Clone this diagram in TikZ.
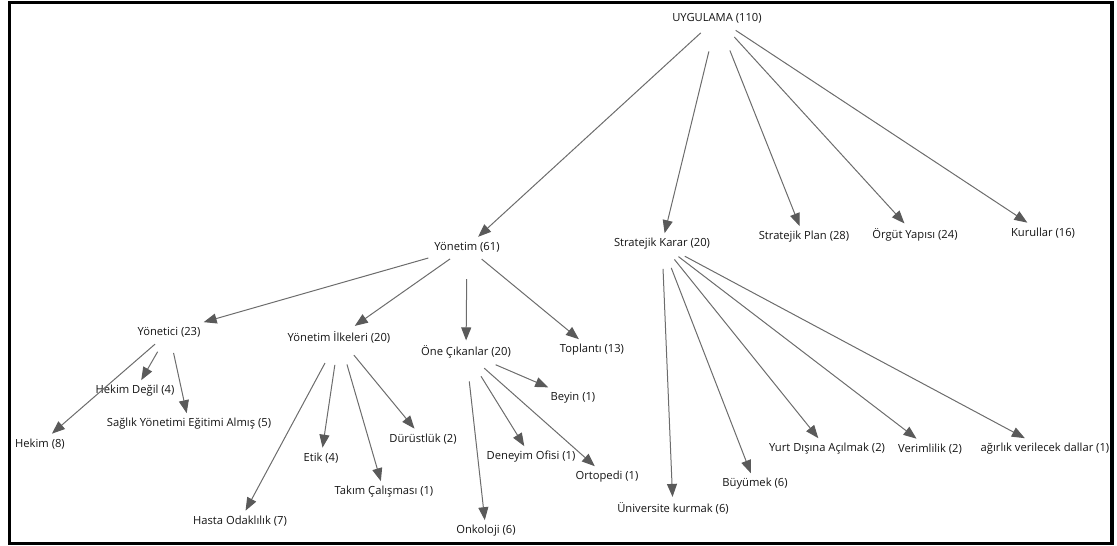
\documentclass[tikz,border=0pt]{standalone}
\usepackage{fontspec}
\setmainfont{Open Sans}
\usetikzlibrary{arrows.meta}
\definecolor{edgegray}{HTML}{6C6C6C}
\definecolor{tipgray}{HTML}{5A5A5A}
\begin{document}
\begin{tikzpicture}[x=1pt,y=-1pt,
  lbl/.style={inner xsep=3pt, inner ysep=5pt, font=\fontsize{11.2}{13}\selectfont, text=black!92},
  edge/.style={draw=edgegray, line width=1pt,
    -{Triangle[length=13pt,width=10pt,color=tipgray]}, shorten <=3pt},
  gap/.style={shorten <=#1}]
\useasboundingbox (0,0) rectangle (1117,546);
\draw[line width=3.5pt] (9.5,2.5) rectangle (1112,543.5);

% root and first level
\node[lbl] (u)   at (717,18)  {UYGULAMA (110)};
\node[lbl] (yon) at (467,247) {Yönetim (61)};
\node[lbl] (sk)  at (662,244) {Stratejik Karar (20)};
\node[lbl] (sp)  at (804,237) {Stratejik Plan (28)};
\node[lbl] (oy)  at (915,235) {Örgüt Yapısı (24)};
\node[lbl] (kur) at (1043,233) {Kurullar (16)};

% under Yönetim
\node[lbl] (yci) at (169,332) {Yönetici (23)};
\node[lbl] (yil) at (339,337) {Yönetim İlkeleri (20)};
\node[lbl] (oc)  at (466,352) {Öne Çıkanlar (20)};
\node[lbl] (top) at (592,350) {Toplantı (13)};

% under Yönetici
\node[lbl] (hd)  at (135,391) {Hekim Değil (4)};
\node[lbl] (sye) at (189,424) {Sağlık Yönetimi Eğitimi Almış (5)};
\node[lbl] (hek) at (40,444)  {Hekim (8)};

% under Yönetim İlkeleri
\node[lbl] (etk) at (321,458) {Etik (4)};
\node[lbl] (dur) at (423,439) {Dürüstlük (2)};
\node[lbl] (tak) at (384,492) {Takım Çalışması (1)};
\node[lbl] (has) at (240,521) {Hasta Odaklılık (7)};

% under Öne Çıkanlar
\node[lbl] (bey) at (573,398) {Beyin (1)};
\node[lbl] (den) at (531,457) {Deneyim Ofisi (1)};
\node[lbl] (ort) at (607,477) {Ortopedi (1)};
\node[lbl] (onk) at (486,531) {Onkoloji (6)};

% under Stratejik Karar
\node[lbl] (uni) at (673,508) {Üniversite kurmak (6)};
\node[lbl] (buy) at (755,484) {Büyümek (6)};
\node[lbl] (yda) at (827,449) {Yurt Dışına Açılmak (2)};
\node[lbl] (ver) at (930,449) {Verimlilik (2)};
\node[lbl] (agr) at (1045,449) {ağırlık verilecek dallar (1)};

% connectors
\draw[edge, gap=7pt]  (u) -- (yon);
\draw[edge, gap=24pt] (u) -- (sk);
\draw[edge, gap=24pt] (u) -- (sp);
\draw[edge, gap=12pt] (u) -- (oy);
\draw[edge, gap=4pt]  (u) -- (kur);

\draw[edge] (yon) -- (yci);
\draw[edge] (yon) -- (yil);
\draw[edge, gap=22pt] (yon) -- (oc);
\draw[edge] (yon) -- (top);

\draw[edge] (yci) -- (hek);
\draw[edge, gap=11pt] (yci) -- (hd);
\draw[edge, gap=11pt] (yci) -- (sye);

\draw[edge, gap=17pt] (yil) -- (has);
\draw[edge, gap=17pt] (yil) -- (etk);
\draw[edge, gap=17pt] (yil) -- (tak);
\draw[edge, gap=9pt]  (yil) -- (dur);

\draw[edge] (oc) -- (bey);
\draw[edge, gap=15pt] (oc) -- (den);
\draw[edge, gap=7pt]  (oc) -- (ort);
\draw[edge, gap=18pt] (oc) -- (onk);

\draw[edge, gap=14pt] (sk) -- (uni);
\draw[edge, gap=14pt] (sk) -- (buy);
\draw[edge, gap=6pt]  (sk) -- (yda);
\draw[edge] (sk) -- (ver);
\draw[edge] (sk) -- (agr);
\end{tikzpicture}
\end{document}
